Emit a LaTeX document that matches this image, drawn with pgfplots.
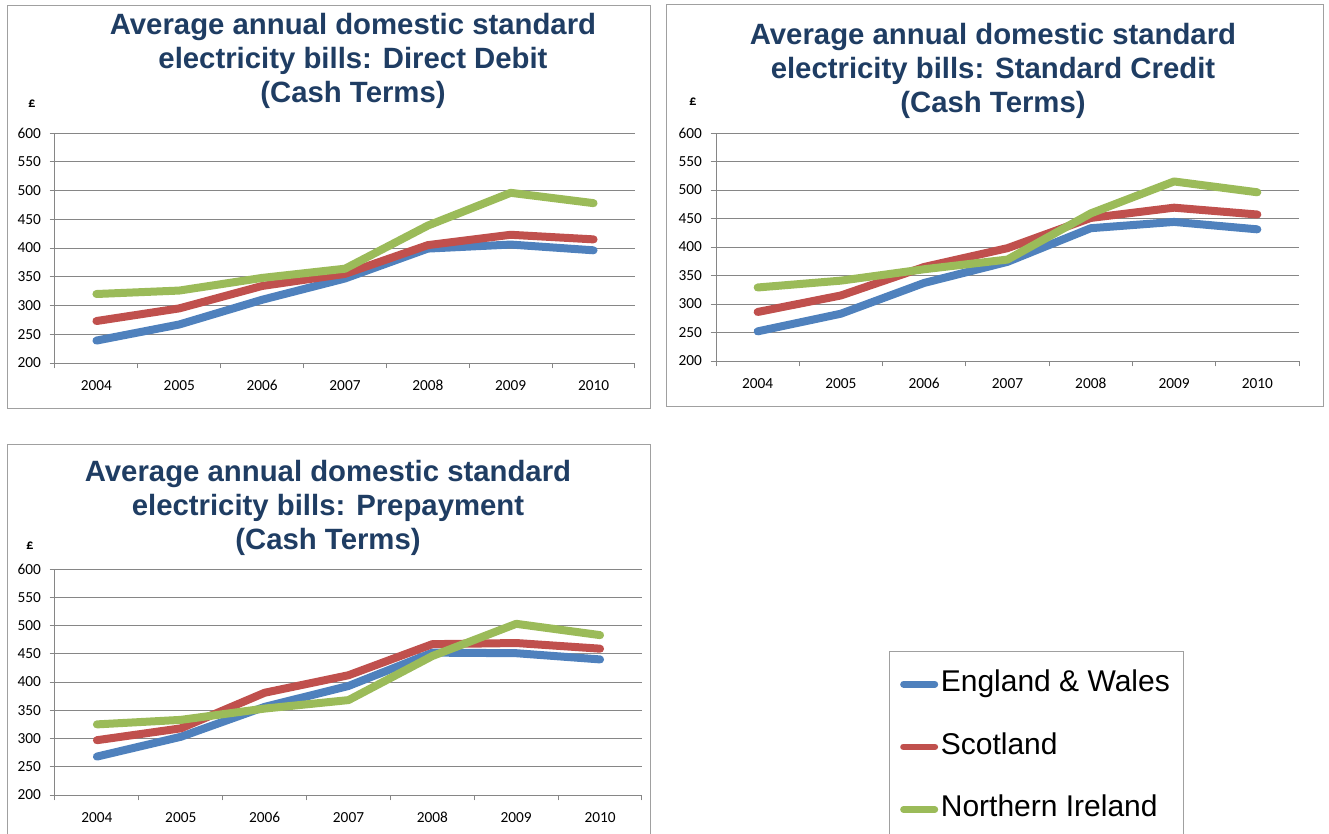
\documentclass[border=0pt]{standalone}
\usepackage{pgfplots}
\pgfplotsset{compat=1.18}
\usepackage{fontspec}
\setmainfont{Carlito}
\newfontfamily\arialfont{Liberation Sans}
\definecolor{ew}{HTML}{4F81BD}
\definecolor{sc}{HTML}{C0504D}
\definecolor{ni}{HTML}{9BBB59}
\definecolor{ttl}{RGB}{31,61,99}
\definecolor{gridc}{HTML}{868686}
\definecolor{framec}{HTML}{A0A0A0}
\pgfplotsset{
 billaxis/.style={
  scale only axis,
  xmin=-0.5, xmax=6.5, ymin=200, ymax=600,
  xtick={-0.5,0.5,...,6.5},
  xticklabels={2004,2005,2006,2007,2008,2009,2010},
  x tick label as interval,
  ytick={200,250,...,600},
  ymajorgrids,
  grid style={gridc, line width=0.75pt},
  axis x line*=bottom, axis y line*=left,
  axis line style={gridc, line width=0.75pt},
  tick style={gridc, line width=0.75pt},
  tick align=outside,
  major tick length=4pt,
  /pgf/number format/assume math mode=true,
  tick label style={font=\fontsize{11.5}{12}\selectfont},
  xticklabel style={yshift=-5pt, text height=8pt, text depth=0pt},
  yticklabel style={xshift=-3pt},
  every axis plot/.append style={line width=6pt, line cap=round, line join=round, mark=none},
 },
}
\tikzset{ttlstyle/.style={align=center, text=ttl, inner sep=0pt, font=\arialfont\bfseries\fontsize{22}{25.5}\selectfont},
  pound/.style={font=\bfseries\fontsize{10.5}{10.5}\selectfont, inner sep=0pt}}
\begin{document}
\begin{tikzpicture}
% frames
\draw[framec, line width=0.75pt] (5.25pt,-3.75pt) rectangle (487.5pt,-306pt);
\draw[framec, line width=0.75pt] (499.5pt,-3pt) rectangle (992.25pt,-304.5pt);
\draw[framec, line width=0.75pt] (5.25pt,-333pt) rectangle (487.5pt,-640pt);

% Chart 1: Direct Debit
\begin{axis}[billaxis, at={(41.25pt,-272.25pt)}, anchor=south west, width=435pt, height=172.5pt]
\addplot[ew] coordinates {(0,239) (1,267) (2,310) (3,347) (4,399) (5,406) (6,396)};
\addplot[sc] coordinates {(0,273) (1,295) (2,334) (3,355) (4,405) (5,423) (6,415)};
\addplot[ni] coordinates {(0,320) (1,326) (2,348) (3,364) (4,439) (5,496) (6,478)};
\end{axis}
\node[ttlstyle] at (264.75pt,-45.75pt) {Average annual domestic standard\\electricity bills: Direct Debit\\(Cash Terms)};
\node[pound] at (24pt,-78pt) {£};

% Chart 2: Standard Credit
\begin{axis}[billaxis, at={(537pt,-270.75pt)}, anchor=south west, width=437.25pt, height=171pt]
\addplot[ew] coordinates {(0,252) (1,283) (2,337) (3,374) (4,433) (5,444) (6,431)};
\addplot[sc] coordinates {(0,286) (1,315) (2,365) (3,398) (4,451) (5,469) (6,457)};
\addplot[ni] coordinates {(0,329) (1,341) (2,361) (3,378) (4,459) (5,515) (6,496)};
\end{axis}
\node[ttlstyle] at (744.75pt,-53.5pt) {Average annual domestic standard\\electricity bills: Standard Credit\\(Cash Terms)};
\node[pound] at (519.75pt,-76.5pt) {£};

% Chart 3: Prepayment
\begin{axis}[billaxis, at={(41.25pt,-596.25pt)}, anchor=south west, width=440.25pt, height=169.5pt,
  legend style={at={(rel axis cs:1.4208,0.637)}, anchor=north west, draw=framec, line width=0.75pt,
    font=\arialfont\fontsize{22.5}{27}\selectfont, inner xsep=8pt, inner ysep=14pt,
    nodes={inner xsep=2pt, inner ysep=0pt, text height=16pt, text depth=5pt},
    row sep=26pt, column sep=0pt},
  legend cell align=left,
  legend image code/.code={\draw[#1, line width=5pt, line cap=round] (2.5pt,0pt) -- (26pt,0pt);}]
\addplot[ew] coordinates {(0,268) (1,303) (2,356) (3,393) (4,452) (5,451) (6,440)};
\addplot[sc] coordinates {(0,297) (1,318) (2,381) (3,412) (4,467) (5,469) (6,459)};
\addplot[ni] coordinates {(0,325) (1,333) (2,353) (3,368) (4,446) (5,503) (6,483)};
\legend{England \& Wales, Scotland, Northern Ireland}
\end{axis}
\node[ttlstyle] at (246pt,-381pt) {Average annual domestic standard\\electricity bills: Prepayment\\(Cash Terms)};
\node[pound] at (22.5pt,-409.5pt) {£};

\pgfresetboundingbox
\path (0pt,0pt) rectangle (996.75pt,-624.75pt);
\end{tikzpicture}
\end{document}
